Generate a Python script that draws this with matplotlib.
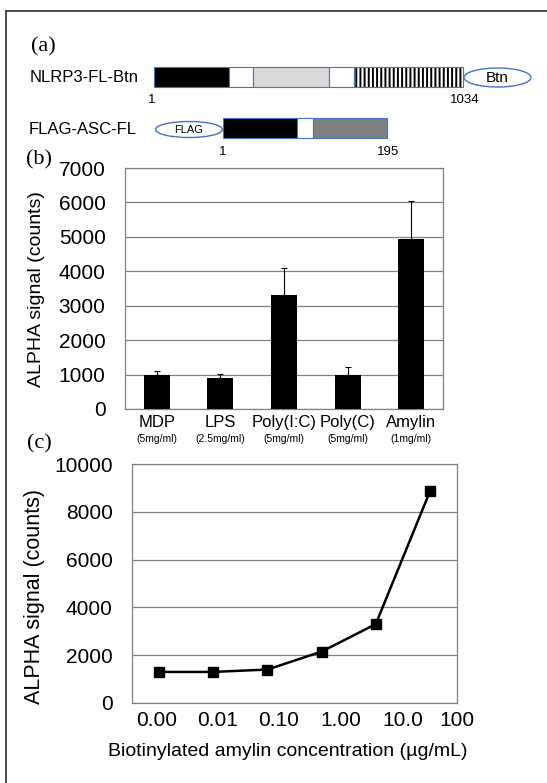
import matplotlib
matplotlib.use("Agg")
import matplotlib.pyplot as plt
from matplotlib.patches import Rectangle, Ellipse
import numpy as np

plt.rcParams['font.family'] = ['Liberation Sans', 'DejaVu Sans']
plt.rcParams['hatch.linewidth'] = 1.4

# panel (a) constructs: residue boundaries of each segment
nlrp3_bounds = [1, 251, 333, 586, 669, 1034]
nlrp3_fills = ['black', 'white', '#d9d9d9', 'white', 'stripe']
asc_bounds = [1, 89, 108, 195]
asc_fills = ['black', 'white', '#808080']

# panel (b)
stimuli = ['MDP', 'LPS', 'Poly(I:C)', 'Poly(C)', 'Amylin']
doses = ['(5mg/ml)', '(2.5mg/ml)', '(5mg/ml)', '(5mg/ml)', '(1mg/ml)']
signal_b = [1000, 890, 3310, 990, 4930]
err_b = [100, 135, 790, 230, 1120]

# panel (c)
conc_labels = ['0.00', '0.01', '0.10', '1.00', '10.0', '100']
signal_c = [1300, 1300, 1400, 2150, 3300, 8850]

W, H = 547, 783
fig = plt.figure(figsize=(W / 100, H / 100), dpi=100)


def rect(l, t, r, b):
    return [l / W, 1 - b / H, (r - l) / W, (b - t) / H]


over = fig.add_axes([0, 0, 1, 1])
over.set_xlim(0, W)
over.set_ylim(H, 0)
over.axis('off')

# outer frame (top and left only)
over.plot([6, W], [10.5, 10.5], color='#404040', lw=1.3)
over.plot([6, 6], [10.5, H], color='#404040', lw=1.3)

# ---- (a) schematic ----
outline = '#4472c4'


def construct(bounds, fills, x0, w, top, h):
    n = bounds[-1] - bounds[0]
    for i, f in enumerate(fills):
        xa = x0 + (bounds[i] - bounds[0]) / n * w
        xb = x0 + (bounds[i + 1] - bounds[0]) / n * w
        if f == 'stripe':
            over.add_patch(Rectangle((xa, top), xb - xa, h, facecolor='white',
                                     edgecolor='black', hatch='||||', lw=0))
            over.add_patch(Rectangle((xa, top), xb - xa, h, fill=False,
                                     edgecolor=outline, lw=0.8))
        else:
            over.add_patch(Rectangle((xa, top), xb - xa, h, facecolor=f,
                                     edgecolor=outline, lw=0.8))


over.text(43, 47, '(a)', family='Liberation Serif', fontsize=16, ha='center', va='center')
over.text(30, 78, 'NLRP3-FL-Btn', fontsize=12, ha='left', va='center')
construct(nlrp3_bounds, nlrp3_fills, 154, 309, 67, 20)
over.add_patch(Ellipse((497.5, 77.5), 67, 19, facecolor='white', edgecolor=outline, lw=1))
over.text(497.5, 78, 'Btn', fontsize=11, ha='center', va='center')
over.text(152, 100, '1', fontsize=9.5, ha='center', va='center')
over.text(465, 100, '1034', fontsize=9.5, ha='center', va='center')

over.text(29, 129, 'FLAG-ASC-FL', fontsize=12, ha='left', va='center')
over.add_patch(Ellipse((189, 129.5), 67, 16, facecolor='white', edgecolor=outline, lw=1))
over.text(189, 130, 'FLAG', fontsize=8, ha='center', va='center')
construct(asc_bounds, asc_fills, 223, 164, 118, 20)
over.text(223, 152, '1', fontsize=9.5, ha='center', va='center')
over.text(388, 152, '195', fontsize=9.5, ha='center', va='center')

# ---- (b) bar chart ----
axb = fig.add_axes(rect(125, 168, 443, 409))
x = np.arange(len(stimuli))
axb.errorbar(x, signal_b, yerr=[np.zeros(len(x)), err_b], fmt='none',
             ecolor='black', elinewidth=0.8, capsize=2, capthick=0.8, zorder=2)
axb.bar(x, signal_b, width=0.41, color='black', zorder=3)
axb.set_xlim(-0.5, len(x) - 0.5)
axb.set_ylim(0, 7000)
axb.set_yticks(range(0, 7001, 1000))
axb.set_xticks([])
axb.yaxis.grid(True, color='#808080', lw=0.9)
axb.set_axisbelow(True)
axb.tick_params(axis='y', length=0, labelsize=15, pad=14)
for s in axb.spines.values():
    s.set_color('#808080')
    s.set_linewidth(0.9)
trans = axb.get_xaxis_transform()
for i in x:
    axb.text(i, -0.058, stimuli[i], transform=trans, fontsize=12, ha='center', va='center')
    axb.text(i, -0.125, doses[i], transform=trans, fontsize=7.5, ha='center', va='center')
over.text(39, 160, '(b)', family='Liberation Serif', fontsize=16, ha='center', va='center')
over.text(37, 289, 'ALPHA signal (counts)', rotation=90, fontsize=14, ha='center', va='center')

# ---- (c) dose response ----
axc = fig.add_axes(rect(132, 464, 457, 703))
xc = np.arange(len(signal_c))
axc.plot(xc, signal_c, color='black', lw=1.8, marker='s', ms=7.5, zorder=3)
axc.set_xlim(-0.5, len(xc) - 0.5)
axc.set_ylim(0, 10000)
axc.set_yticks(range(0, 10001, 2000))
axc.set_xticks([])
axc.yaxis.grid(True, color='#808080', lw=0.9)
axc.set_axisbelow(True)
axc.tick_params(axis='y', length=0, labelsize=15, pad=14)
for s in axc.spines.values():
    s.set_color('#808080')
    s.set_linewidth(0.9)
label_pos = [0.077, 0.262, 0.452, 0.643, 0.834, 1.0]
for p, lab in zip(label_pos, conc_labels):
    axc.text(p, -0.075, lab, transform=axc.transAxes, fontsize=15, ha='center', va='center')
over.text(39, 444, '(c)', family='Liberation Serif', fontsize=16, ha='center', va='center')
over.text(35, 596, 'ALPHA signal (counts)', rotation=90, fontsize=15.5, ha='center', va='center')
over.text(288, 751, 'Biotinylated amylin concentration (\u00b5g/mL)', fontsize=14, ha='center', va='center')

fig.savefig('out.png', dpi=100)
